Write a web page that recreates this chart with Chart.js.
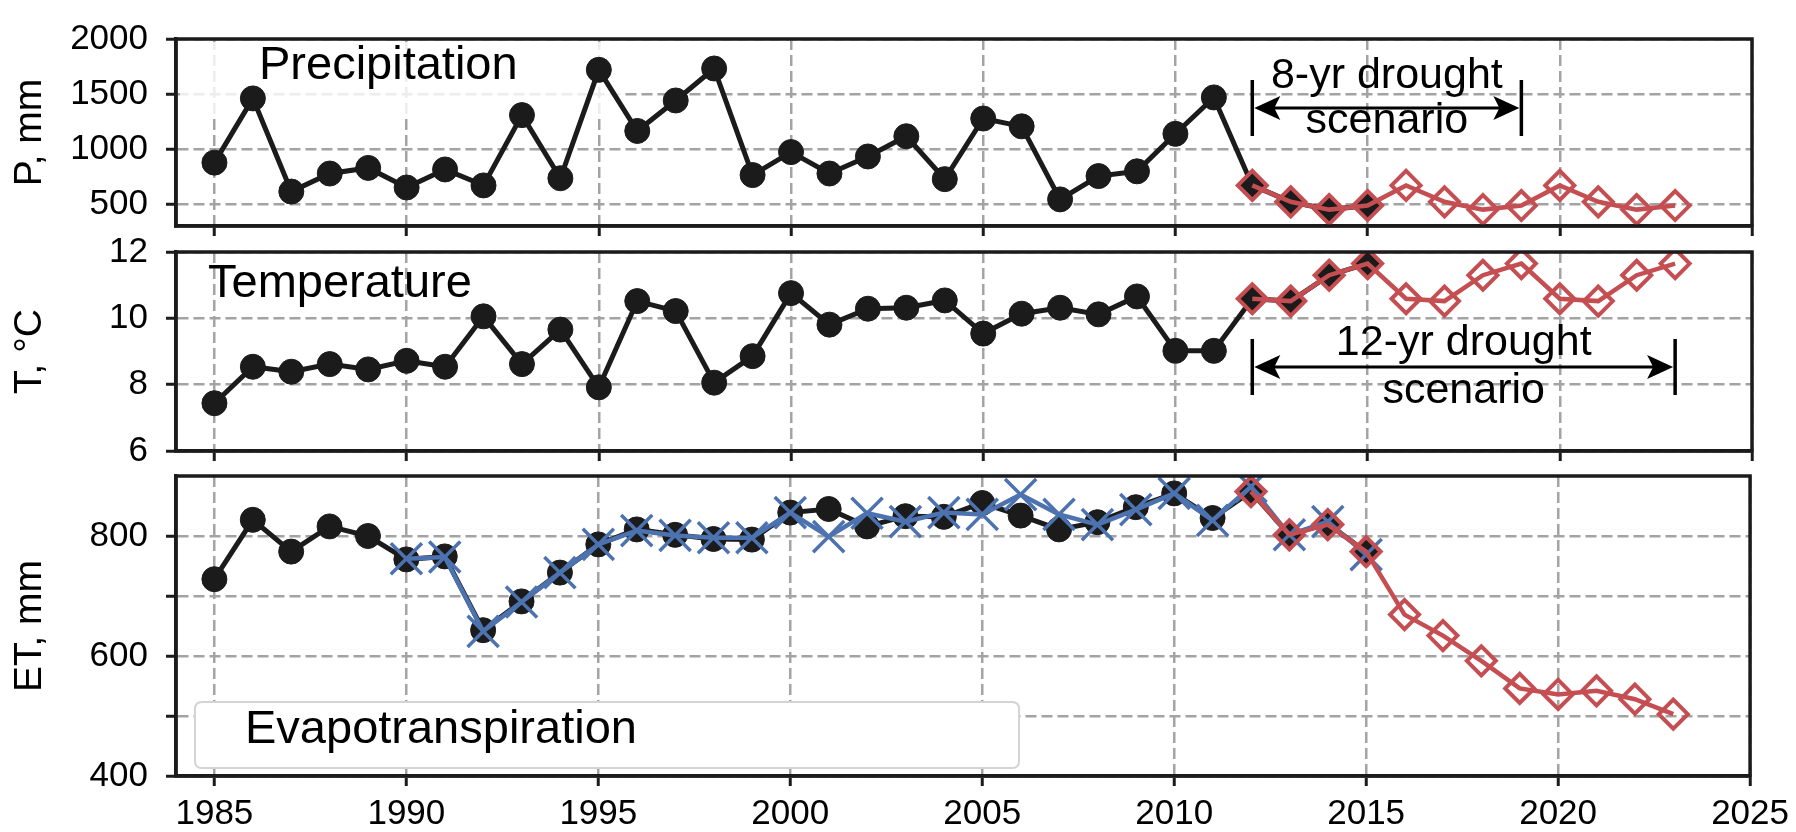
<!DOCTYPE html>
<html>
<head>
<meta charset="utf-8">
<script src="https://cdn.jsdelivr.net/npm/chart.js@4.4.1/dist/chart.umd.min.js"></script>
<style>
  html, body { margin: 0; padding: 0; background: #fff; }
  #wrap { position: relative; width: 1796px; height: 832px; }
  #wrap canvas { position: absolute; left: 0; top: 0; }
</style>
</head>
<body>
<div id="wrap">
  <canvas id="precip" width="1796" height="832"></canvas>
  <canvas id="temp" width="1796" height="832"></canvas>
  <canvas id="et" width="1796" height="832"></canvas>
</div>
<script>
// Years
const obsYears = [1985, 1986, 1987, 1988, 1989, 1990, 1991, 1992, 1993, 1994, 1995, 1996, 1997, 1998, 1999, 2000,
  2001, 2002, 2003, 2004, 2005, 2006, 2007, 2008, 2009, 2010, 2011, 2012, 2013, 2014, 2015];
const modelYears = [1990, 1991, 1992, 1993, 1994, 1995, 1996, 1997, 1998, 1999, 2000, 2001, 2002,
  2003, 2004, 2005, 2006, 2007, 2008, 2009, 2010, 2011, 2012, 2013, 2014, 2015];
const droughtYears = [2012, 2013, 2014, 2015, 2016, 2017, 2018, 2019, 2020, 2021, 2022, 2023];
const xTicks = [1985, 1990, 1995, 2000, 2005, 2010, 2015, 2020, 2025];

// Precipitation, mm
const precipObs = [876, 1460, 613, 777, 828, 650, 814, 669, 1308, 734, 1720, 1164, 1441, 1732, 763, 972,
  777, 932, 1116, 726, 1277, 1206, 542, 754, 797, 1138, 1469, 669, 520, 449, 486];
const precipDrought = [669, 520, 449, 486, 669, 520, 449, 486, 669, 520, 449, 486];
const precipTicks = [500, 1000, 1500, 2000];

// Temperature, C
const tempObs = [7.44, 8.54, 8.39, 8.62, 8.46, 8.72, 8.54, 10.06, 8.62, 9.66, 7.92, 10.52, 10.22, 8.06, 8.86, 10.76,
  9.81, 10.29, 10.32, 10.54, 9.54, 10.14, 10.32, 10.12, 10.66, 9.02, 9.02, 10.59, 10.52, 11.3, 11.65];
const tempDrought = [10.59, 10.52, 11.3, 11.65, 10.59, 10.52, 11.3, 11.65, 10.59, 10.52, 11.3, 11.65];
const tempTicks = [6, 8, 10, 12];

// Evapotranspiration, mm
const etObs = [728, 827, 774, 816, 800, 761, 766, 643, 691, 739, 786, 811, 802, 795, 794, 839,
  845, 816, 833, 832, 855, 834, 811, 823, 848, 871, 830, 874, 802, 821, 773];
const etModel = [762, 765, 641, 690, 739, 786, 809, 801, 797, 797, 839, 799, 838,
  824, 839, 836, 869, 836, 819, 844, 871, 826, 882, 802, 824, 769];
const etDrought = [874, 802, 819, 774, 669, 634, 592, 546, 536, 542, 528, 503];
const etTicks = [400, 500, 600, 700, 800];
const etTickLabels = [400, 600, 800];

const BLACK = "#1b1b1b";
const RED = "#c44e52";
const BLUE = "#4c72b0";
const GRID = "#a3a3a3";
const FONT = "'Liberation Sans', Arial, sans-serif";
Chart.defaults.font.family = FONT;

const pts = (xs, ys) => xs.map((x, i) => ({ x: x, y: ys[i] }));
const isDrought = (c) => c.raw && c.raw.x >= 2012;

const obsSet = (years, values) => ({
  data: pts(years, values),
  borderColor: BLACK,
  borderWidth: 5,
  pointStyle: (c) => (isDrought(c) ? "rectRot" : "circle"),
  pointRadius: (c) => (isDrought(c) ? 14 : 12.5),
  pointBackgroundColor: BLACK,
  pointBorderColor: BLACK,
  pointBorderWidth: 1,
  order: 3,
});

const modelSet = (years, values) => ({
  data: pts(years, values),
  borderColor: BLUE,
  borderWidth: 4.5,
  pointStyle: "crossRot",
  pointRadius: 22,
  pointBorderColor: BLUE,
  pointBorderWidth: 3.5,
  order: 2,
});

const droughtSet = (years, values) => ({
  data: pts(years, values),
  borderColor: RED,
  borderWidth: 4.5,
  pointStyle: "rectRot",
  pointRadius: 14.5,
  pointBackgroundColor: "rgba(0,0,0,0)",
  pointBorderColor: RED,
  pointBorderWidth: 4,
  order: 1,
});

// Double headed arrow with text, placed in data units
function drawSpan(chart, span) {
  const { ctx, scales: { x, y } } = chart;
  const x0 = x.getPixelForValue(span.from);
  const x1 = x.getPixelForValue(span.to);
  const yy = y.getPixelForValue(span.at);
  ctx.save();
  ctx.strokeStyle = "#000";
  ctx.fillStyle = "#000";
  ctx.lineWidth = 3.5;
  ctx.beginPath();
  ctx.moveTo(x0, yy - 28);
  ctx.lineTo(x0, yy + 28);
  ctx.moveTo(x1, yy - 28);
  ctx.lineTo(x1, yy + 28);
  ctx.stroke();
  ctx.lineWidth = 3;
  ctx.beginPath();
  ctx.moveTo(x0 + 20, yy);
  ctx.lineTo(x1 - 20, yy);
  ctx.stroke();
  [[x0, 1], [x1, -1]].forEach(([tip, d]) => {
    ctx.beginPath();
    ctx.moveTo(tip + d * 2, yy);
    ctx.lineTo(tip + d * 28, yy - 12);
    ctx.lineTo(tip + d * 22, yy);
    ctx.lineTo(tip + d * 28, yy + 12);
    ctx.closePath();
    ctx.fill();
  });
  ctx.font = "43px " + FONT;
  ctx.textAlign = "center";
  ctx.textBaseline = "middle";
  const cx = x.getPixelForValue(span.textAt);
  span.lines.forEach((l) => ctx.fillText(l.text, cx, y.getPixelForValue(l.at)));
  ctx.restore();
}

function drawLabel(chart, text, dx, dy, fromBottom) {
  const { ctx, chartArea: a } = chart;
  ctx.save();
  ctx.font = "47px " + FONT;
  ctx.fillStyle = "#000";
  ctx.textAlign = "left";
  ctx.textBaseline = "middle";
  ctx.fillText(text, a.left + dx, fromBottom ? a.bottom - dy : a.top + dy);
  ctx.restore();
}

const framePlugin = (draw) => ({
  id: "frame",
  beforeDatasetsDraw(chart) {
    if (draw.under) draw.under(chart);
  },
  afterDatasetsDraw(chart) {
    const { ctx, chartArea: a } = chart;
    ctx.save();
    ctx.strokeStyle = BLACK;
    ctx.lineWidth = 3.5;
    ctx.strokeRect(a.left, a.top, a.right - a.left, a.bottom - a.top);
    ctx.restore();
    if (draw.over) draw.over(chart);
  },
});

function panel(id, spec) {
  const gridOpts = { color: GRID, lineWidth: 2.5, tickLength: 10, tickColor: BLACK, tickWidth: 3 };
  const borderOpts = { display: true, color: BLACK, width: 3.5, dash: [11, 5] };
  return new Chart(document.getElementById(id), {
    type: "line",
    data: { datasets: spec.datasets },
    options: {
      responsive: false,
      animation: false,
      devicePixelRatio: 1,
      layout: {
        padding: { left: 0, right: 44, top: spec.top, bottom: 832 - spec.bottom - spec.xHeight },
      },
      plugins: { legend: { display: false }, tooltip: { enabled: false } },
      elements: { line: { tension: 0 } },
      scales: {
        x: {
          type: "linear",
          min: 1984,
          max: 2025,
          afterBuildTicks: (s) => { s.ticks = xTicks.map((v) => ({ value: v })); },
          afterFit: (s) => { s.height = spec.xHeight; },
          grid: gridOpts,
          border: borderOpts,
          ticks: {
            display: spec.showX,
            font: { size: 35 },
            color: "#000",
            padding: 7,
            maxRotation: 0,
            autoSkip: false,
            callback: (v) => String(v),
          },
        },
        y: {
          min: spec.min,
          max: spec.max,
          afterBuildTicks: (s) => { s.ticks = spec.ticks.map((v) => ({ value: v })); },
          afterFit: (s) => { s.width = 176; },
          grid: gridOpts,
          border: borderOpts,
          ticks: {
            font: { size: 35 },
            color: "#000",
            padding: 18,
            autoSkip: false,
            callback: spec.tickLabel || ((v) => String(v)),
          },
          title: {
            display: true,
            text: spec.title,
            font: { size: 39 },
            color: "#000",
            padding: { top: 7, bottom: 0 },
          },
        },
      },
    },
    plugins: [framePlugin(spec.draw)],
  });
}

// Precipitation panel
panel("precip", {
  top: 25, bottom: 226, xHeight: 14, showX: false,
  min: 300, max: 2000, ticks: precipTicks, title: "P, mm",
  datasets: [droughtSet(droughtYears, precipDrought), obsSet(obsYears, precipObs)],
  draw: {
    under(chart) {
      const { ctx, chartArea: a } = chart;
      ctx.save();
      ctx.fillStyle = "rgba(255,255,255,0.8)";
      ctx.fillRect(a.left + 4, a.top + 3, 445, 75);
      ctx.restore();
    },
    over(chart) {
      drawLabel(chart, "Precipitation", 83, 27, false);
      drawSpan(chart, {
        from: 2012, to: 2019, at: 1373, textAt: 2015.5,
        lines: [{ text: "8-yr drought", at: 1662 }, { text: "scenario", at: 1255 }],
      });
    },
  },
});

// Temperature panel
panel("temp", {
  top: 252, bottom: 451, xHeight: 14, showX: false,
  min: 6, max: 12, ticks: tempTicks, title: "T, °C",
  datasets: [droughtSet(droughtYears, tempDrought), obsSet(obsYears, tempObs)],
  draw: {
    over(chart) {
      drawLabel(chart, "Temperature", 32, 32, false);
      drawSpan(chart, {
        from: 2012, to: 2023, at: 8.53, textAt: 2017.5,
        lines: [{ text: "12-yr drought", at: 9.26 }, { text: "scenario", at: 7.81 }],
      });
    },
  },
});

// Evapotranspiration panel
panel("et", {
  top: 476, bottom: 776, xHeight: 56, showX: true,
  min: 400, max: 900, ticks: etTicks, title: "ET, mm",
  tickLabel: (v) => (etTickLabels.includes(v) ? String(v) : ""),
  datasets: [droughtSet(droughtYears, etDrought), modelSet(modelYears, etModel), obsSet(obsYears, etObs)],
  draw: {
    under(chart) {
      const { ctx, chartArea: a } = chart;
      const bx = a.left + 19, by = a.bottom - 74, bw = 824, bh = 66, r = 7;
      ctx.save();
      ctx.beginPath();
      ctx.moveTo(bx + r, by);
      ctx.lineTo(bx + bw - r, by);
      ctx.quadraticCurveTo(bx + bw, by, bx + bw, by + r);
      ctx.lineTo(bx + bw, by + bh - r);
      ctx.quadraticCurveTo(bx + bw, by + bh, bx + bw - r, by + bh);
      ctx.lineTo(bx + r, by + bh);
      ctx.quadraticCurveTo(bx, by + bh, bx, by + bh - r);
      ctx.lineTo(bx, by + r);
      ctx.quadraticCurveTo(bx, by, bx + r, by);
      ctx.closePath();
      ctx.fillStyle = "#fff";
      ctx.fill();
      ctx.strokeStyle = "#d4d4d4";
      ctx.lineWidth = 2;
      ctx.stroke();
      ctx.restore();
    },
    over(chart) {
      drawLabel(chart, "Evapotranspiration", 69, 46, true);
    },
  },
});
</script>
</body>
</html>
